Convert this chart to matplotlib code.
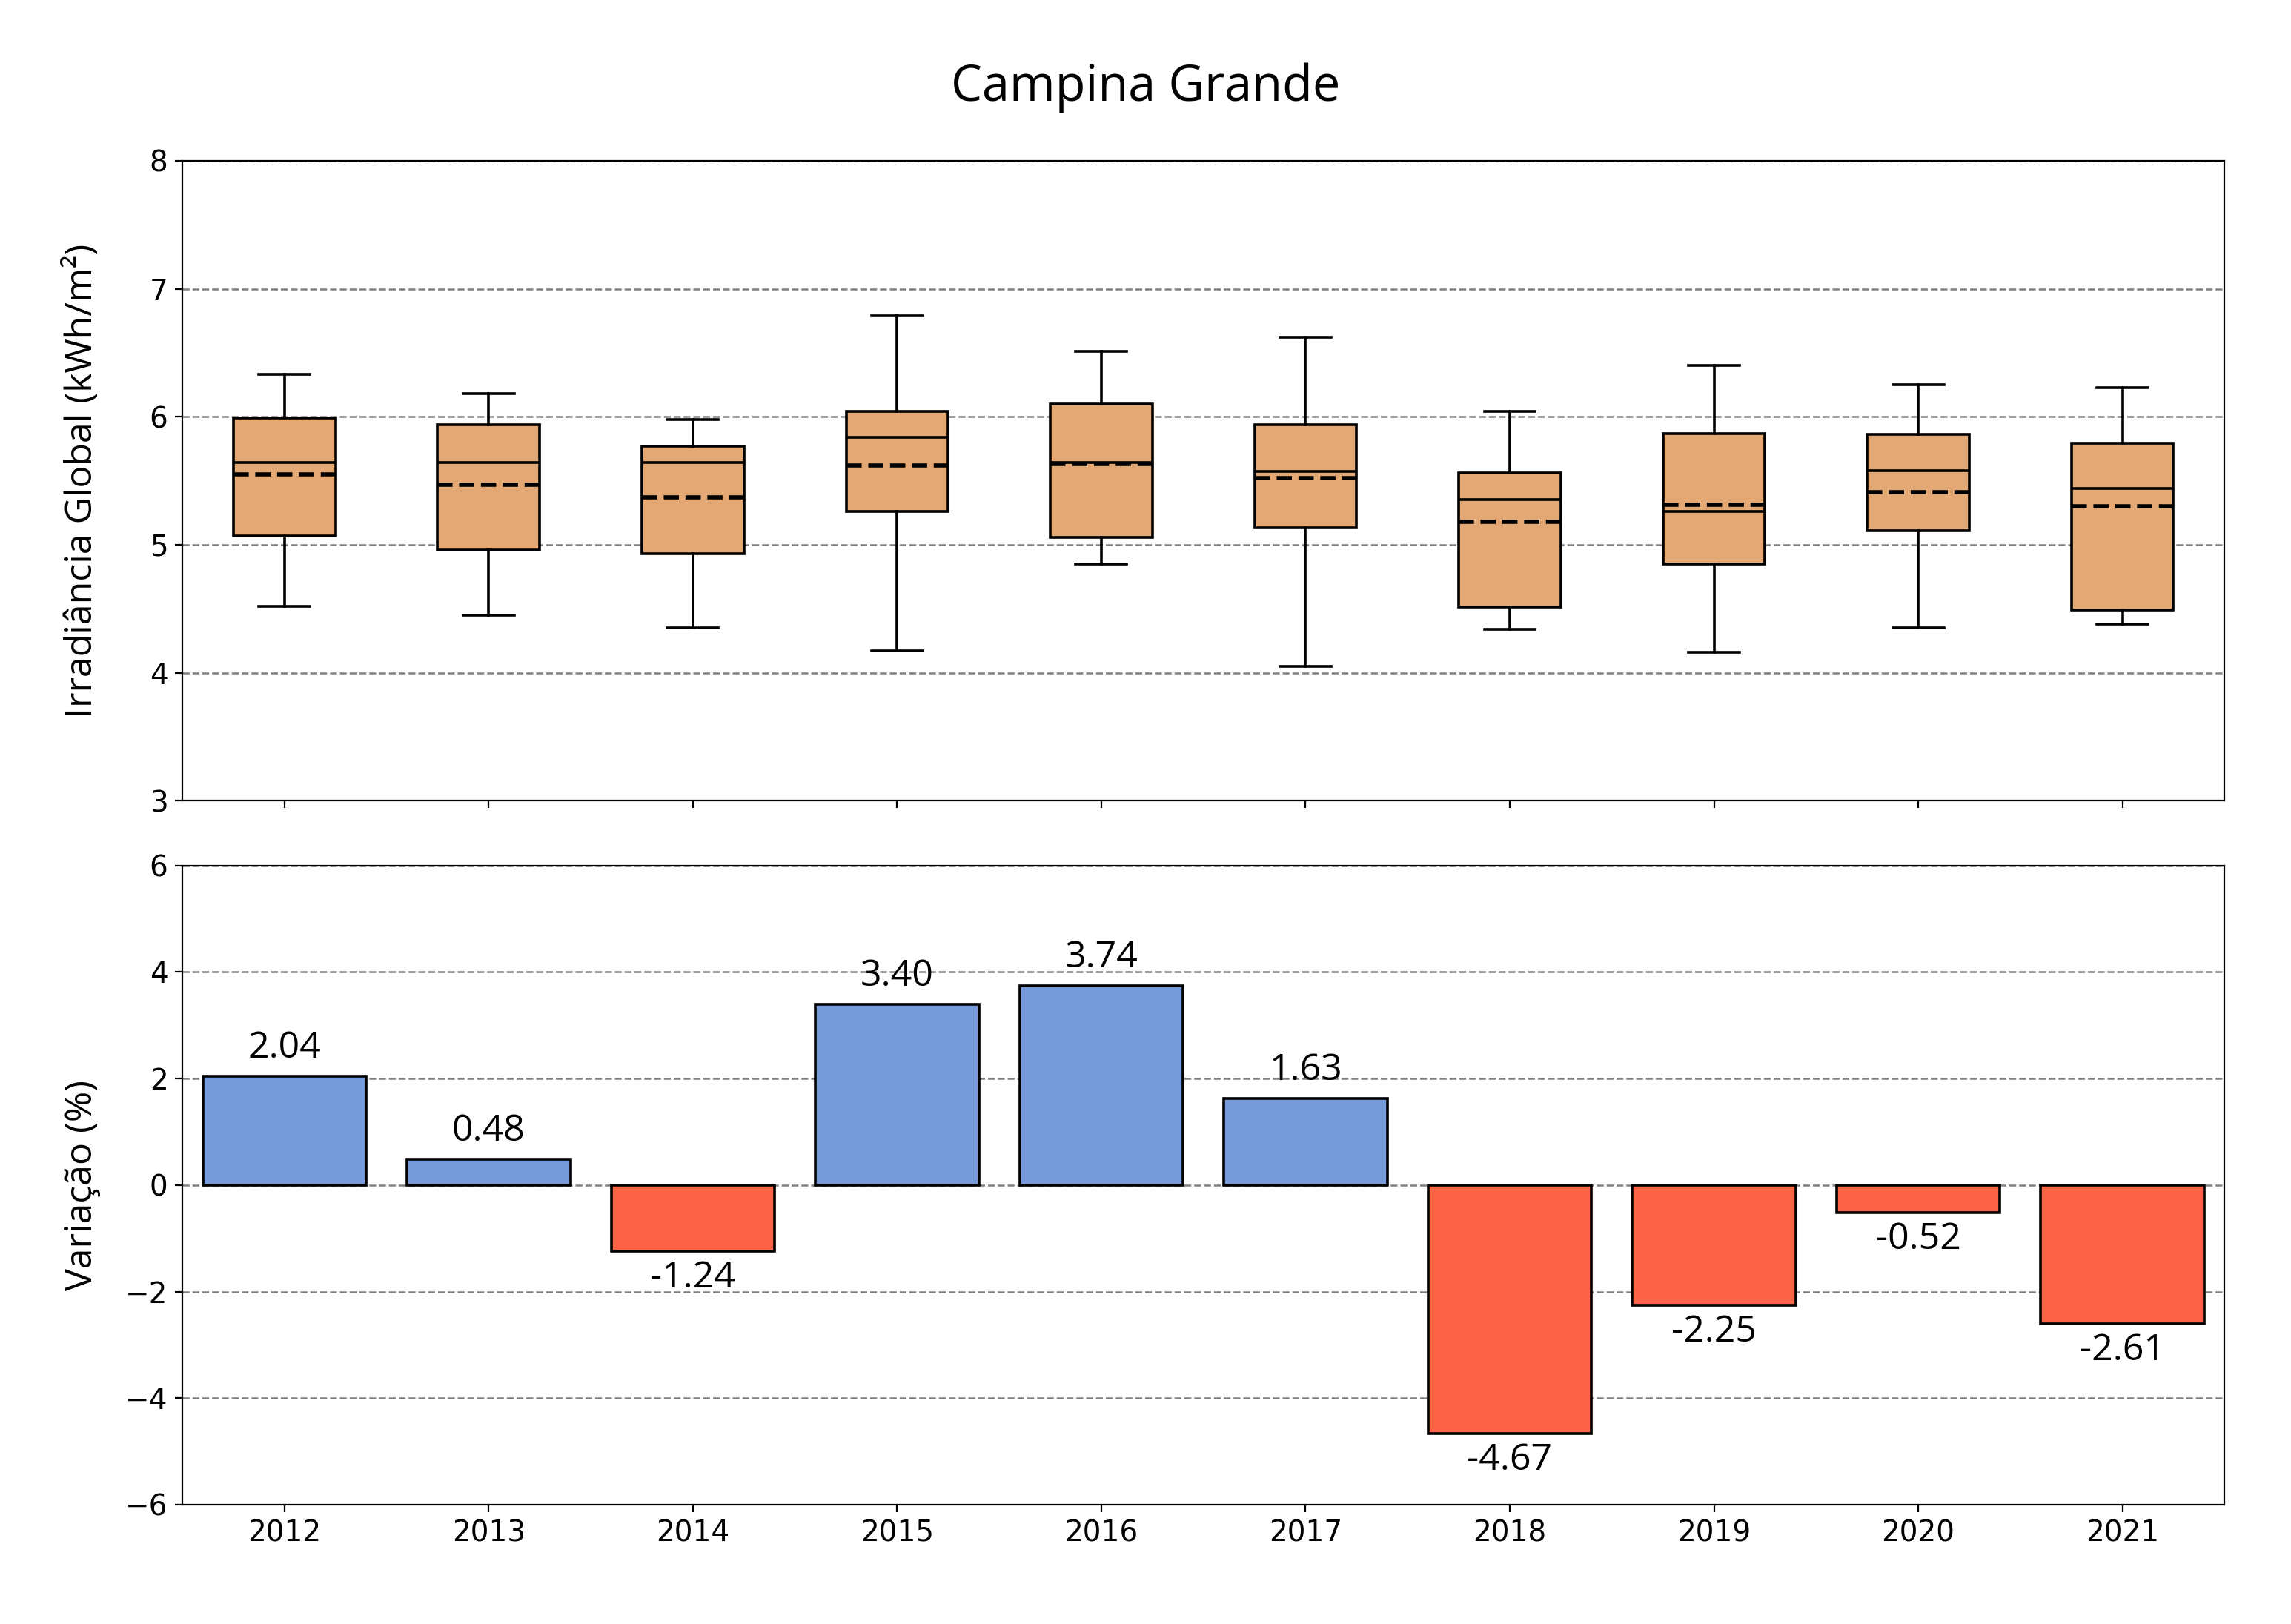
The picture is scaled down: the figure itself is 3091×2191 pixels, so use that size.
import matplotlib
matplotlib.use("Agg")
import matplotlib.pyplot as plt

# data
anos = ['2012', '2013', '2014', '2015', '2016', '2017', '2018', '2019', '2020', '2021']
whis_baixo = [4.52, 4.45, 4.35, 4.17, 4.85, 4.05, 4.34, 4.16, 4.35, 4.38]
q1 = [5.07, 4.96, 4.93, 5.26, 5.06, 5.13, 4.51, 4.85, 5.11, 4.49]
mediana = [5.64, 5.64, 5.64, 5.84, 5.64, 5.57, 5.35, 5.26, 5.58, 5.44]
media = [5.55, 5.47, 5.37, 5.62, 5.63, 5.52, 5.18, 5.31, 5.41, 5.30]
q3 = [5.99, 5.94, 5.77, 6.04, 6.10, 5.94, 5.56, 5.87, 5.86, 5.79]
whis_alto = [6.33, 6.18, 5.98, 6.79, 6.51, 6.62, 6.04, 6.40, 6.25, 6.23]
variacao = [2.04, 0.48, -1.24, 3.40, 3.74, 1.63, -4.67, -2.25, -0.52, -2.61]

fonte = 'Open Sans'
pos = list(range(1, len(anos) + 1))

fig = plt.figure(figsize=(15.455, 10.955), dpi=200)
ax1 = fig.add_axes([0.0796, 0.507, 0.8914, 0.394])
ax2 = fig.add_axes([0.0796, 0.0735, 0.8914, 0.3935], sharex=ax1)

# boxplot a partir das estatisticas
stats = []
for i in range(len(anos)):
    stats.append({'whislo': whis_baixo[i], 'q1': q1[i], 'med': mediana[i],
                  'mean': media[i], 'q3': q3[i], 'whishi': whis_alto[i],
                  'fliers': []})

ax1.bxp(stats, positions=pos, widths=0.5, patch_artist=True,
        showmeans=True, meanline=True,
        boxprops=dict(facecolor='#E3A873', edgecolor='black', linewidth=1.3),
        medianprops=dict(color='black', linewidth=1.3),
        meanprops=dict(color='black', linestyle='--', linewidth=2.0),
        whiskerprops=dict(color='black', linewidth=1.3),
        capprops=dict(color='black', linewidth=1.3))
ax1.set_ylim(3, 8)
ax1.set_yticks([3, 4, 5, 6, 7, 8])
ax1.yaxis.grid(True, linestyle='--', color='gray', linewidth=0.9)
ax1.set_axisbelow(True)
ax1.set_ylabel('Irradiância Global (kWh/m²)', fontsize=18, family=fonte)
ax1.yaxis.set_label_coords(-0.040, 0.5)
ax1.tick_params(labelbottom=False, labelsize=14)

# barras de variacao
cores = ['#779ADB' if v >= 0 else '#FF6347' for v in variacao]
ax2.bar(pos, variacao, width=0.8, color=cores, edgecolor='black', linewidth=1.3)
for x, v in zip(pos, variacao):
    if v >= 0:
        ax2.text(x, v + 0.18, f'{v:.2f}', ha='center', va='bottom', fontsize=18, family=fonte)
    else:
        ax2.text(x, v - 0.16, f'{v:.2f}', ha='center', va='top', fontsize=18, family=fonte)
ax2.set_ylim(-6, 6)
ax2.set_yticks([-6, -4, -2, 0, 2, 4, 6])
ax2.yaxis.grid(True, linestyle='--', color='gray', linewidth=0.9)
ax2.set_axisbelow(True)
ax2.set_ylabel('Variação (%)', fontsize=18, family=fonte)
ax2.yaxis.set_label_coords(-0.040, 0.5)
ax2.set_xticks(pos)
ax2.set_xticklabels(anos)
ax2.tick_params(labelsize=14)
ax2.set_xlim(0.5, len(anos) + 0.5)

fig.suptitle('Campina Grande', fontsize=24, family=fonte, y=0.946, va='center')

fig.savefig('out.png', dpi=200)
